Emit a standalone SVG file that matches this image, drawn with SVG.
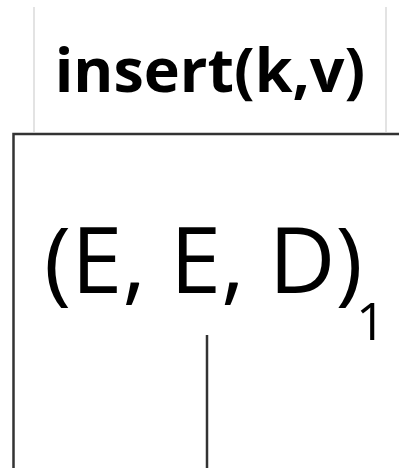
<svg xmlns="http://www.w3.org/2000/svg" width="399" height="468" viewBox="0 0 399 468">
<style>
.guide{stroke:#d0d0d0;stroke-width:1.2;fill:none}
.edge{stroke:#333;stroke-width:2.5;fill:none}
.title{font-family:"Open Sans","Noto Sans",sans-serif;font-weight:bold;font-size:61px;fill:#000}
.label{font-family:"Open Sans","Noto Sans",sans-serif;font-size:92px;fill:#000}
.sub{font-size:52px}
</style>
<rect width="399" height="468" fill="#fff"/>
<g id="header">
<line class="guide" x1="34" y1="7" x2="34" y2="132"/>
<line class="guide" x1="386" y1="7" x2="386" y2="132"/>
<text class="title" x="210" y="92" text-anchor="middle">insert(k,v)</text>
</g>
<g id="node">
<path class="edge" d="M13.5 470 V134 H402"/>
<text class="label" x="44" y="293">(E, E, D)<tspan class="sub" x="356" y="340">1</tspan></text>
</g>
<g id="connectors">
<line class="edge" x1="207" y1="335" x2="207" y2="470"/>
</g>
</svg>
